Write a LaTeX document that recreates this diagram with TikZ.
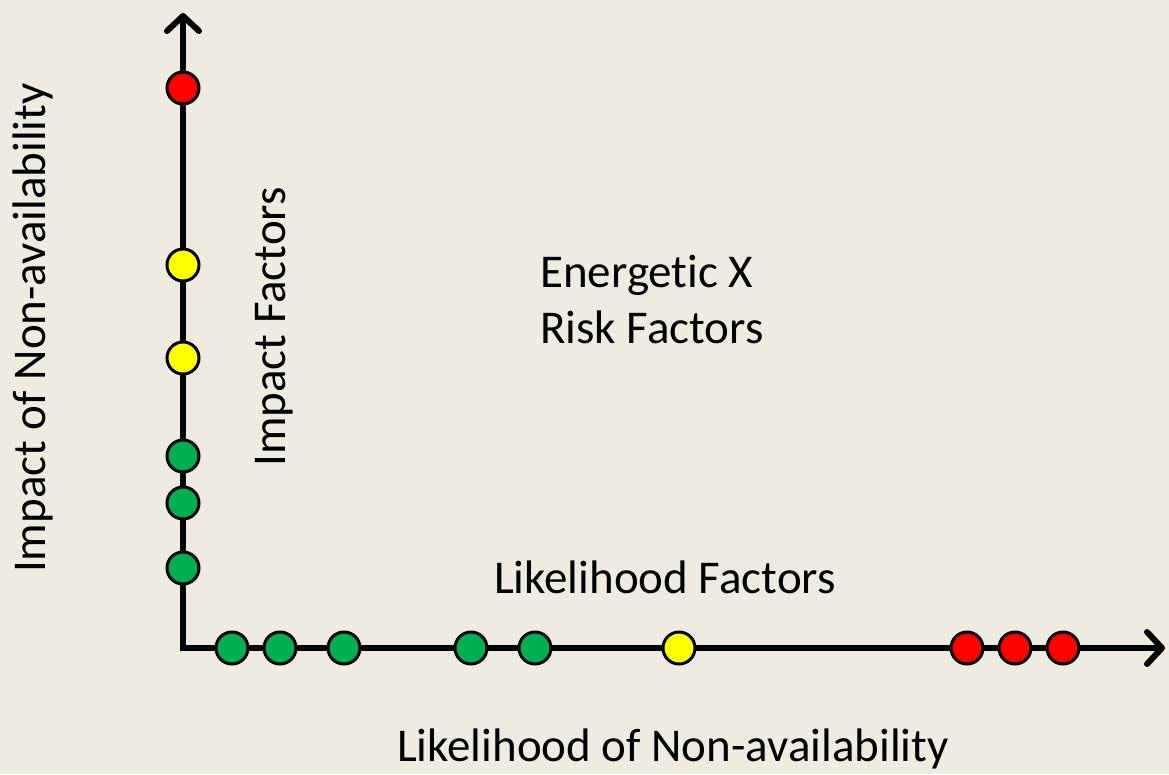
\documentclass[tikz,border=0pt]{standalone}
\usepackage{fontspec}
\setmainfont{Carlito}[Ligatures=NoCommon]
\usetikzlibrary{arrows.meta}
\definecolor{bg}{HTML}{EEECE1}
\definecolor{dgreen}{HTML}{00B050}
\definecolor{dyellow}{HTML}{FFFF00}
\definecolor{dred}{HTML}{FF0000}
\begin{document}
\begin{tikzpicture}[x=1pt,y=-1pt,
  axis/.style={line width=6pt,-{Straight Barb[length=15pt,width=32pt,line width=6pt,round]}},
  dot/.style={circle,draw=black,line width=3pt,minimum size=32pt,inner sep=0pt},
  g/.style={dot,fill=dgreen},
  yl/.style={dot,fill=dyellow},
  r/.style={dot,fill=dred},
  lbl/.style={font=\fontsize{47}{56}\selectfont,inner sep=0pt}]
\fill[bg] (0,0) rectangle (1169,774);
\useasboundingbox (0,0) rectangle (1169,774);
\coordinate (o) at (183,648);
\coordinate (ytip) at (183,13);
\coordinate (xtip) at (1165,648);
\draw[axis] (183,651) -- (ytip);
\draw[axis] (180,648) -- (xtip);
% vertical dots
\node[r] (v1) at (183,88) {};
\node[yl] (v2) at (183,265) {};
\node[yl] (v3) at (183,358) {};
\node[g] (v4) at (183,456) {};
\node[g] (v5) at (183,503) {};
\node[g] (v6) at (183,568) {};
% horizontal dots
\node[g] (h1) at (232,648) {};
\node[g] (h2) at (280,648) {};
\node[g] (h3) at (344,648) {};
\node[g] (h4) at (471,648) {};
\node[g] (h5) at (535,648) {};
\node[yl] (h6) at (679,648) {};
\node[r] (h7) at (967,648) {};
\node[r] (h8) at (1015,648) {};
\node[r] (h9) at (1063,648) {};
% labels
\node[lbl,anchor=base] (xl) at (673,761) {Likelihood of Non-availability};
\node[lbl,anchor=base] (lf) at (665,593) {Likelihood Factors};
\node[lbl,align=left,anchor=base west] (ex) at (540,343) {Energetic X\\Risk Factors};
\node[lbl,rotate=90,anchor=base] (if) at (285,327) {Impact Factors};
\node[lbl,rotate=90,anchor=base] (yl) at (45,328) {Impact of Non-availability};
\end{tikzpicture}
\end{document}
